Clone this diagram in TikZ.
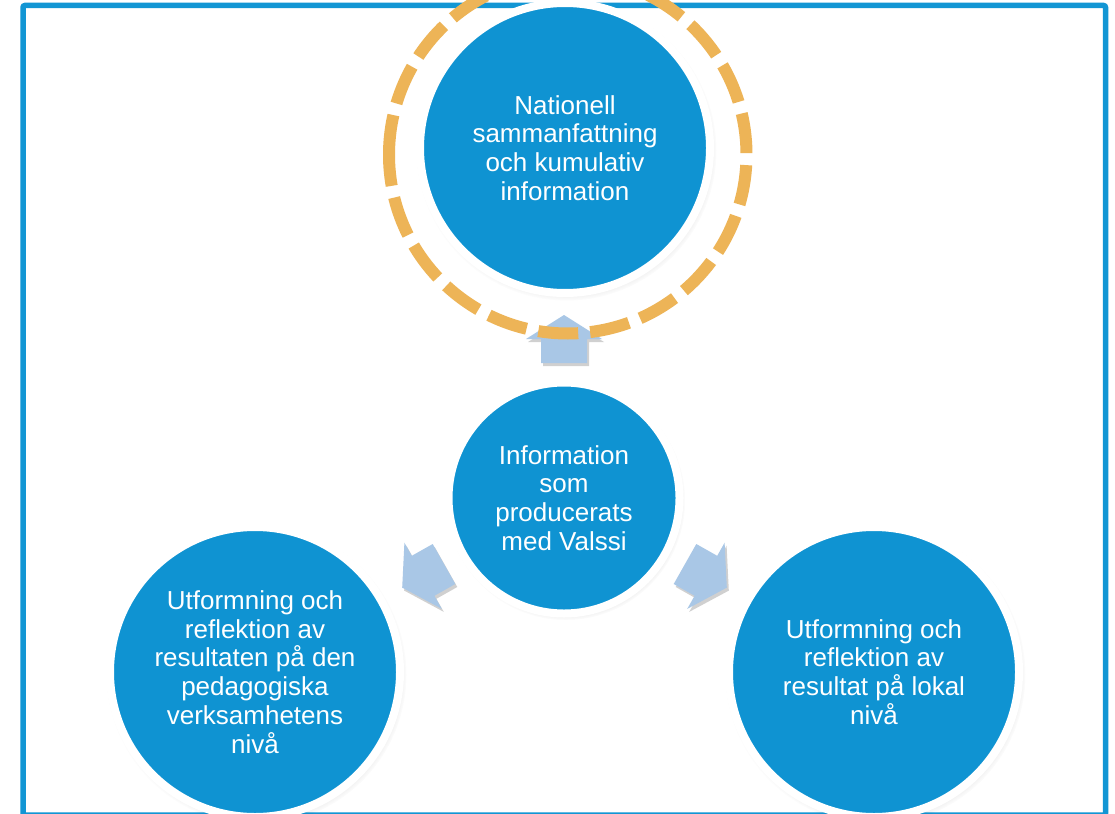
\documentclass[tikz,border=0pt]{standalone}
\usepackage{fontspec}
\setmainfont{Liberation Sans}
\usetikzlibrary{shadows}
\definecolor{cblue}{HTML}{0F93D2}
\definecolor{fblue}{HTML}{1296D4}
\definecolor{ablue}{HTML}{A9C7E6}
\definecolor{dorange}{HTML}{EDB457}
\begin{document}
\begin{tikzpicture}[x=1pt,y=-1pt,
  bub/.style={circle, fill=cblue, draw=white, line width=8pt, text=white,
    align=center, font=\fontsize{26}{28.7}\selectfont, inner sep=0pt,
    circular drop shadow={shadow xshift=1.5pt, shadow yshift=-2.5pt, shadow scale=1.035, opacity=.2, fill=black}},
  barrow/.style={fill=ablue, drop shadow={shadow xshift=2pt, shadow yshift=-3pt, opacity=.3, fill=black!60}},
  ring/.style={draw=dorange, line width=12pt, dash pattern=on 40pt off 12pt}
]
\useasboundingbox (0,0) rectangle (1115,813);
\fill[white] (0,0) rectangle (1115,813);
% frame
\draw[fblue, line width=5.5pt, rounded corners=2pt] (23,5.5) rectangle (1105.5,815);
% circles
\node[bub, minimum size=290pt] (nat) at (565,148) {Nationell\\sammanfattning\\och kumulativ\\information};
\node[bub, minimum size=231pt] (info) at (564,498) {Information\\som\\producerats\\med Valssi};
\node[bub, minimum size=290pt] (ped) at (255,672) {Utformning och\\reflektion av\\resultaten på den\\pedagogiska\\verksamhetens\\nivå};
\node[bub, minimum size=290pt] (lok) at (874,672) {Utformning och\\reflektion av\\resultat på lokal\\nivå};
% block arrows
\path[barrow] (541,363) -- (541,339) -- (526,339) -- (564,315) -- (602,339) -- (587,339) -- (587,363) -- cycle;
\path[barrow] (432.7,544.0) -- (411.8,555.8) -- (404.4,542.7) -- (402.2,587.6) -- (441.8,608.9) -- (434.4,595.8) -- (455.3,584.0) -- cycle;
\path[barrow] (696.3,544.0) -- (717.2,555.8) -- (724.6,542.7) -- (726.8,587.6) -- (687.2,608.9) -- (694.6,595.8) -- (673.7,584.0) -- cycle;
% dashed ring
\coordinate (rc) at (567.75,154.75);
\draw[ring] (rc) ++(180:178.75) arc[start angle=180, end angle=540, radius=178.75];
\end{tikzpicture}
\end{document}
